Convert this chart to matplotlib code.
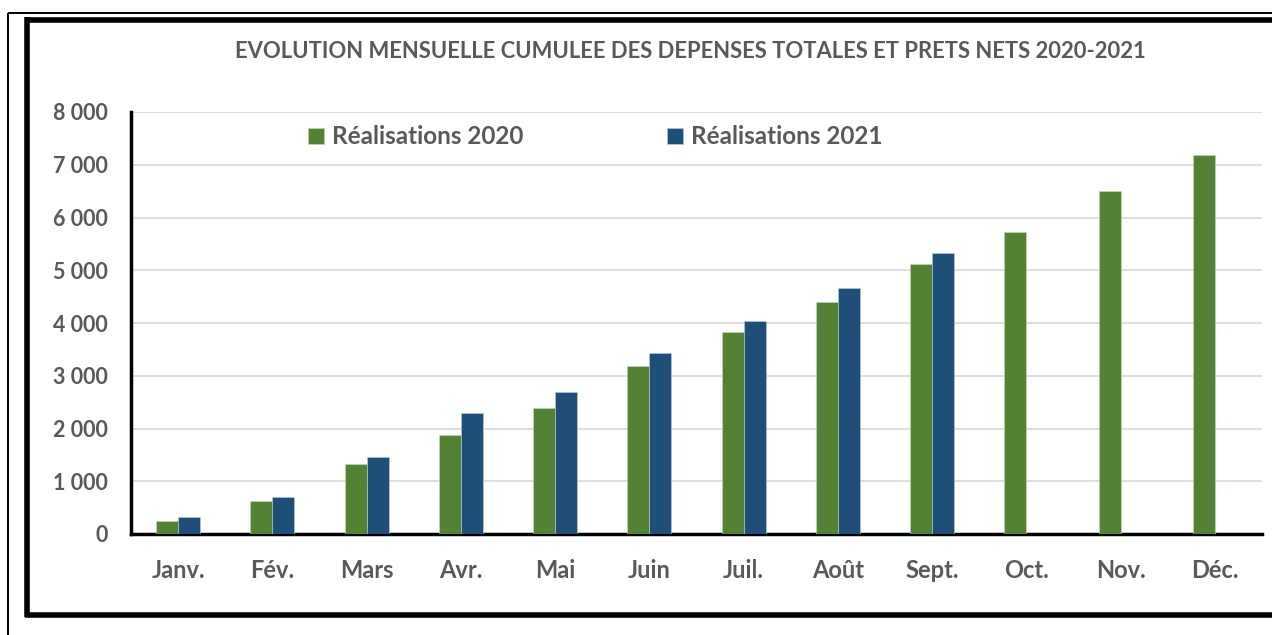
import matplotlib
matplotlib.use("Agg")
import matplotlib.pyplot as plt
from matplotlib.lines import Line2D
import numpy as np

plt.rcParams['font.family'] = ['Lato', 'DejaVu Sans']

months = ['Janv.', 'Fév.', 'Mars', 'Avr.', 'Mai', 'Juin', 'Juil.', 'Août',
          'Sept.', 'Oct.', 'Nov.', 'Déc.']
real_2020 = [246, 626, 1327, 1877, 2389, 3185, 3829, 4398, 5118, 5730, 6495, 7185]
real_2021 = [322, 700, 1460, 2294, 2692, 3431, 4038, 4664, 5327]
yticks = [0, 1000, 2000, 3000, 4000, 5000, 6000, 7000, 8000]

green = '#548235'
blue = '#1F4E79'
grey = '#595959'

fig = plt.figure(figsize=(12.72, 6.35), dpi=100)
ax = fig.add_axes([131 / 1272, 101 / 635, 1131 / 1272, 422 / 635])

x = np.arange(len(months))
w = 0.233
ax.bar(x - w / 2, real_2020, w, color=green, edgecolor='#c9d9bd', linewidth=0.4,
       label='Réalisations 2020', zorder=3)
ax.bar(x[:len(real_2021)] + w / 2, real_2021, w, color=blue, edgecolor='#c2d0de',
       linewidth=0.4, label='Réalisations 2021', zorder=3)

ax.set_xlim(-0.5, 11.5)
ax.set_ylim(0, 8000)
ax.set_yticks(yticks)
ax.set_yticklabels([f'{v:,}'.replace(',', ' ') for v in yticks])
ax.set_xticks(x)
ax.set_xticklabels(months)
ax.grid(axis='y', color='#d9d9d9', linewidth=1.2, zorder=0)
ax.tick_params(length=0, labelcolor=grey)
ax.tick_params(axis='x', pad=18, labelsize=17)
ax.tick_params(axis='y', pad=17, labelsize=15.5)
for lab in ax.get_xticklabels() + ax.get_yticklabels():
    lab.set_fontweight('bold')
for s in ['top', 'right']:
    ax.spines[s].set_visible(False)
for s in ['left', 'bottom']:
    ax.spines[s].set_linewidth(2.5)
    ax.spines[s].set_color('black')

ax.legend(loc='center left', bbox_to_anchor=((308 - 131) / 1131, (534 - 137) / 422),
          ncol=2, frameon=False, borderaxespad=0, borderpad=0,
          prop={'weight': 'bold', 'size': 17.5}, handlelength=0.65,
          handleheight=0.65, handletextpad=0.35, columnspacing=5.9,
          labelcolor=grey)

fig.text(690 / 1272, 1 - 52 / 635,
         'EVOLUTION MENSUELLE CUMULEE DES DEPENSES TOTALES ET PRETS NETS 2020-2021',
         ha='center', va='center', fontsize=15.8, fontweight='bold', color=grey)

# frames around the chart
def hline(x0, x1, y, lw):
    fig.add_artist(Line2D([x0 / 1272, x1 / 1272], [1 - y / 635, 1 - y / 635],
                          color='black', linewidth=lw, solid_capstyle='butt'))

def vline(x0, y0, y1, lw):
    fig.add_artist(Line2D([x0 / 1272, x0 / 1272], [1 - y0 / 635, 1 - y1 / 635],
                          color='black', linewidth=lw, solid_capstyle='butt'))

hline(8, 1272, 13, 1.4)
vline(8, 12.5, 635, 1.4)
hline(25, 1272, 19.5, 4)
hline(25, 1272, 614.5, 4)
vline(27, 17, 617, 4)

fig.savefig('out.png', dpi=100, facecolor='white')
